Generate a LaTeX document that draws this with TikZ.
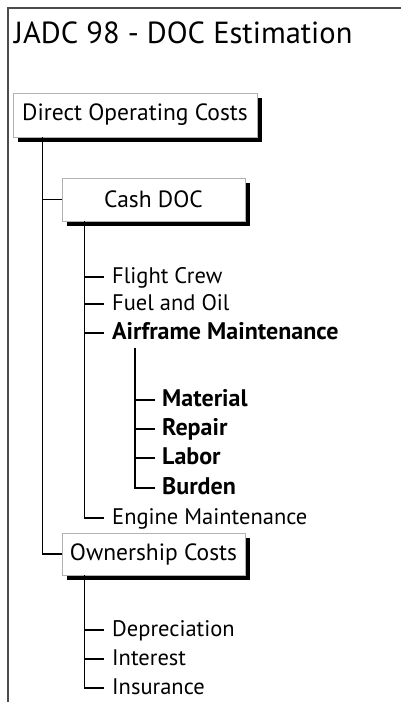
\documentclass[tikz,border=0pt]{standalone}
\usepackage{fontspec}
\setmainfont{PT Sans}
\usetikzlibrary{shadows}

\tikzset{
  costbox/.style={draw=gray!60, line width=0.8pt, fill=white, inner sep=0pt,
    font=\fontsize{23.5}{26}\selectfont,
    drop shadow={fill=black, opacity=1, shadow xshift=5pt, shadow yshift=-5pt}},
  item/.style={anchor=west, inner sep=0pt, text height=13pt, text depth=0pt,
    font=\fontsize{22.5}{26}\selectfont},
  bolditem/.style={item, font=\fontsize{24}{26}\selectfont\bfseries},
  tree/.style={line width=1.7pt, black}
}

\begin{document}
\begin{tikzpicture}[x=1pt, y=-1pt]
  \useasboundingbox (0,0) rectangle (401,702);
  % frame and title
  \draw[gray!60!black, line width=1.1pt] (8,702) -- (8,8) -- (401,8);
  \node[anchor=base west, inner sep=0pt, font=\fontsize{30.5}{34}\selectfont]
    (title) at (14,43) {JADC 98 - DOC Estimation};

  % boxes
  \node[costbox, minimum width=244pt, minimum height=44pt] (doc) at (135,115)
    {Direct Operating Costs};
  \node[costbox, minimum width=183pt, minimum height=43pt] (cash) at (153.5,199.5)
    {Cash DOC};
  \node[costbox, minimum width=183pt, minimum height=42pt] (own) at (153.5,554)
    {Ownership Costs};

  % cash doc items
  \node[item] (crew) at (112,277) {Flight Crew};
  \node[item] (fuel) at (112,304) {Fuel and Oil};
  \node[bolditem] (airframe) at (112,333) {Airframe Maintenance};
  \node[bolditem] (material) at (162,400) {Material};
  \node[bolditem] (repair) at (162,429) {Repair};
  \node[bolditem] (labor) at (162,458) {Labor};
  \node[bolditem] (burden) at (162,488) {Burden};
  \node[item] (engine) at (112,518) {Engine Maintenance};

  % ownership items
  \node[item] (depr) at (112,630) {Depreciation};
  \node[item] (interest) at (112,659) {Interest};
  \node[item] (insur) at (112,688) {Insurance};

  % trunks
  \coordinate (t1) at ([xshift=30pt]doc.south west);
  \coordinate (t2) at ([xshift=23pt]cash.south west);
  \coordinate (t3) at (135,348);
  \coordinate (t4) at ([xshift=23pt]own.south west);

  \draw[tree] (t1) |- (own.west);
  \draw[tree] (t1 |- cash.west) -- (cash.west);

  \draw[tree] (t2) |- ([xshift=-8pt]engine.west);
  \foreach \n in {crew,fuel,airframe}
    \draw[tree] (t2 |- \n.west) -- ([xshift=-8pt]\n.west);

  \draw[tree] (t3) |- ([xshift=-7pt]burden.west);
  \foreach \n in {material,repair,labor}
    \draw[tree] (t3 |- \n.west) -- ([xshift=-7pt]\n.west);

  \draw[tree] (t4) |- ([xshift=-8pt]insur.west);
  \foreach \n in {depr,interest}
    \draw[tree] (t4 |- \n.west) -- ([xshift=-8pt]\n.west);
\end{tikzpicture}
\end{document}
